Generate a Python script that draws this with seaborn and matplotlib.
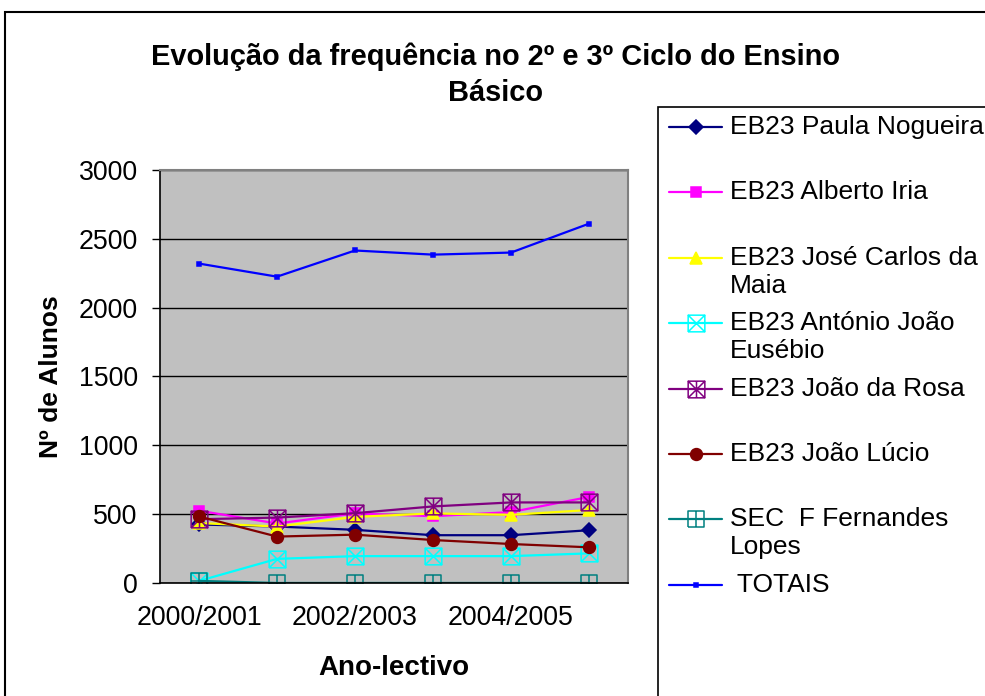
import pandas as pd
import matplotlib.pyplot as plt
import seaborn as sns
from matplotlib.path import Path
from matplotlib.lines import Line2D
from matplotlib.patches import Rectangle

# Dados
anos = ['2000/2001', '2001/2002', '2002/2003', '2003/2004', '2004/2005', '2005/2006']
paula_nogueira = [425, 410, 386, 347, 347, 383]
alberto_iria = [525, 432, 505, 485, 515, 625]
jose_carlos_maia = [435, 410, 480, 505, 495, 530]
antonio_joao_eusebio = [15, 175, 195, 195, 195, 215]
joao_da_rosa = [463, 475, 507, 556, 585, 585]
joao_lucio = [483, 337, 351, 312, 283, 259]
sec_fernandes_lopes = [15, 0, 0, 0, 0, 0]
totais = [2320, 2225, 2415, 2385, 2400, 2610]

nomes = ['EB23 Paula Nogueira', 'EB23 Alberto Iria', 'EB23 José Carlos da\nMaia',
         'EB23 António João\nEusébio', 'EB23 João da Rosa', 'EB23 João Lúcio',
         'SEC  F Fernandes\nLopes', ' TOTAIS']
valores = [paula_nogueira, alberto_iria, jose_carlos_maia, antonio_joao_eusebio,
           joao_da_rosa, joao_lucio, sec_fernandes_lopes, totais]


def box_marker(*arms):
    verts = [(-1, -1), (1, -1), (1, 1), (-1, 1), (-1, -1)]
    codes = [Path.MOVETO] + [Path.LINETO] * 4
    for a, b in arms:
        verts += [a, b]
        codes += [Path.MOVETO, Path.LINETO]
    return Path(verts, codes)


box_x = box_marker(((-1, -1), (1, 1)), ((-1, 1), (1, -1)))
box_star = box_marker(((-1, -1), (1, 1)), ((-1, 1), (1, -1)), ((0, -1), (0, 1)))
box_plus = box_marker(((0, -1), (0, 1)), ((-1, 0), (1, 0)))

estilos = [
    dict(color='#000080', marker='D', markersize=7, markerfacecolor='#000080', markeredgecolor='#000080'),
    dict(color='#FF00FF', marker='s', markersize=7.5, markerfacecolor='#FF00FF', markeredgecolor='#FF00FF'),
    dict(color='#FFFF00', marker='^', markersize=8.5, markerfacecolor='#FFFF00', markeredgecolor='#FFFF00'),
    dict(color='#00FFFF', marker=box_x, markersize=12, markerfacecolor='none', markeredgecolor='#00FFFF'),
    dict(color='#800080', marker=box_star, markersize=12, markerfacecolor='none', markeredgecolor='#800080'),
    dict(color='#800000', marker='o', markersize=8.5, markerfacecolor='#800000', markeredgecolor='#800000'),
    dict(color='#008080', marker=box_plus, markersize=12, markerfacecolor='none', markeredgecolor='#008080'),
    dict(color='#0000FF', marker='s', markersize=3.5, markerfacecolor='#0000FF', markeredgecolor='#0000FF'),
]

sns.set_style('white')
plt.rcParams['font.family'] = ['Liberation Sans', 'DejaVu Sans']
plt.rcParams['text.color'] = 'black'
plt.rcParams['axes.labelcolor'] = 'black'
plt.rcParams['xtick.color'] = 'black'
plt.rcParams['ytick.color'] = 'black'

fig = plt.figure(figsize=(9.85, 6.96), dpi=100)
ax = fig.add_axes([0.1624, 0.1624, 0.4752, 0.5934])
ax.set_facecolor('#C0C0C0')

x = list(range(len(anos)))
for nome, vals, est in zip(nomes, valores, estilos):
    sns.lineplot(x=x, y=vals, ax=ax, linewidth=1.6, markeredgewidth=1.1, **est)

ax.set_xlim(-0.5, len(anos) - 0.5)
ax.set_ylim(0, 3000)
ax.set_yticks(range(0, 3001, 500))
ax.yaxis.grid(True, color='black', linewidth=1)
ax.set_axisbelow(True)

ax.set_xticks([0, 2, 4])
ax.set_xticklabels([anos[0], anos[2], anos[4]])
ax.set_xticks([i - 0.5 for i in range(len(anos) + 1)], minor=True)
ax.tick_params(axis='x', which='major', length=0, pad=16, labelsize=19.3)
ax.tick_params(axis='x', which='minor', length=6, width=1, color='black', direction='out')
ax.tick_params(axis='y', length=6, width=1, color='black', direction='out', pad=10, labelsize=19.3, left=True)

for s in ['left', 'bottom']:
    ax.spines[s].set_color('black')
    ax.spines[s].set_linewidth(1.2)
for s in ['top', 'right']:
    ax.spines[s].set_color('#808080')
    ax.spines[s].set_linewidth(1.5)

ax.set_xlabel('Ano-lectivo', fontsize=20, fontweight='bold', labelpad=17)
ax.set_ylabel('Nº de Alunos', fontsize=19, fontweight='bold', labelpad=11)

fig.text(0.503, 0.893, 'Evolução da frequência no 2º e 3º Ciclo do Ensino\nBásico',
         ha='center', va='center', fontsize=20.9, fontweight='bold', linespacing=1.38)

# moldura da figura e caixa da legenda
W, H = 985, 696
fig.add_artist(Rectangle((5 / W, -0.1), 1.2, 1 - 12 / H + 0.1, transform=fig.transFigure,
                         fill=False, edgecolor='black', linewidth=1.5))
fig.add_artist(Rectangle((658 / W, -0.1), 0.5, 1 - 107 / H + 0.1, transform=fig.transFigure,
                         fill=False, edgecolor='black', linewidth=1.2))

# legenda
for i, (nome, est) in enumerate(zip(nomes, estilos)):
    yp = 1 - (127 + i * 65.4) / H
    fig.add_artist(Line2D([669 / W, 722 / W], [yp, yp], transform=fig.transFigure,
                          color=est['color'], linewidth=1.6))
    fig.add_artist(Line2D([695.5 / W], [yp], transform=fig.transFigure, linestyle='none',
                          markeredgewidth=1.1, **{k: v for k, v in est.items() if k != 'color'}))
    linhas = nome.split('\n')
    for j, t in enumerate(linhas):
        fig.text(730 / W, yp - j * 28 / H, t, ha='left', va='center', fontsize=19)

plt.savefig('out.png', dpi=100)
